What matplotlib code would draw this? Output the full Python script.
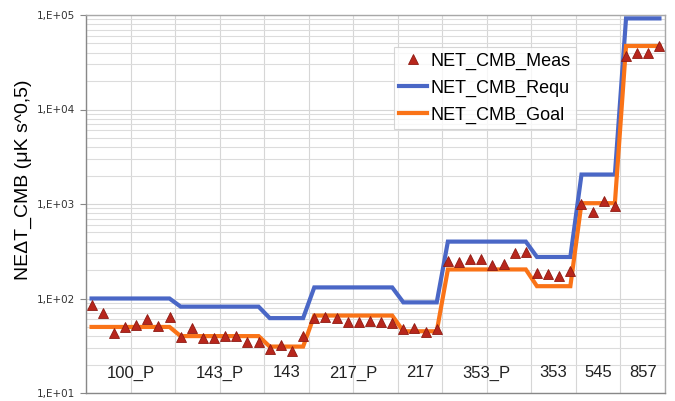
import numpy as np
import matplotlib
matplotlib.use("Agg")
import matplotlib.pyplot as plt
from matplotlib.ticker import LogLocator, FixedLocator, NullFormatter, FuncFormatter

# ---- data ----
groups = ["100_P", "143_P", "143", "217_P", "217", "353_P", "353", "545", "857"]
group_sizes = [8, 8, 4, 8, 4, 8, 4, 4, 4]
net_meas = [85, 71, 43, 50, 53, 60, 51, 64,
            39, 49, 38, 38, 40, 40, 35, 35,
            29, 32, 28, 40,
            62, 64, 62, 57, 57, 58, 57, 55,
            48, 49, 44, 47,
            250, 243, 260, 262, 224, 232, 300, 308,
            187, 181, 173, 194,
            1000, 832, 1070, 962,
            36500, 40000, 40000, 47000]
net_requ_group = [100, 82, 62, 131, 91, 400, 275, 2050, 92000]
net_goal_group = [50, 40, 31, 66, 45, 203, 135, 1020, 47000]
ytick_labels = ["1,E+01", "1,E+02", "1,E+03", "1,E+04", "1,E+05"]

net_requ = np.repeat(net_requ_group, group_sizes)
net_goal = np.repeat(net_goal_group, group_sizes)
n = len(net_meas)
x = np.arange(n) + 0.5

fig = plt.figure(figsize=(6.75, 4.01), dpi=100)
ax = fig.add_axes([86/675, 8/401, 579/675, 378/401])

blue = "#4A67C6"
orange = "#FA7317"
red = "#B8261C"

ax.plot(x, net_requ, color=blue, lw=3.0, label="NET_CMB_Requ", zorder=3, solid_joinstyle="miter")
ax.plot(x, net_goal, color=orange, lw=3.0, label="NET_CMB_Goal", zorder=3, solid_joinstyle="miter")
ax.plot(x, net_meas, linestyle="none", marker="^", ms=7.5, mfc=red, mec="#8E1A12",
        mew=0.6, label="NET_CMB_Meas", zorder=4)

ax.set_yscale("log")
ax.set_ylim(10, 1e5)
ax.set_xlim(0, n)

ax.yaxis.set_major_locator(FixedLocator([1e1, 1e2, 1e3, 1e4, 1e5]))
ax.yaxis.set_major_formatter(FuncFormatter(lambda v, p: ytick_labels[int(round(np.log10(v))) - 1]))
ax.yaxis.set_minor_locator(LogLocator(base=10, subs=np.arange(2, 10)))
ax.yaxis.set_minor_formatter(NullFormatter())
ax.set_xticks(np.arange(0, n + 1, 4))
ax.set_xticklabels([])
ax.tick_params(axis="x", length=0)
ax.tick_params(axis="y", which="major", length=4, width=0.8, color="#888888",
               labelsize=7.5, labelcolor="#333333", pad=4)
ax.tick_params(axis="y", which="minor", length=0)
for lab in ax.get_yticklabels():
    lab.set_family("DejaVu Sans")

ax.grid(True, which="major", axis="both", color="#d6d6d6", lw=0.8, zorder=0)
ax.grid(True, which="minor", axis="y", color="#dcdcdc", lw=0.8, zorder=0)
ax.set_axisbelow(True)
for s in ax.spines.values():
    s.set_color("#a8a8a8")
    s.set_linewidth(1.0)
ax.spines["left"].set_color("#888888")
ax.spines["bottom"].set_color("#888888")

# group labels inside the plot
start = 0
for g, size in zip(groups, group_sizes):
    cx = start + size / 2
    ax.text(cx, 16.3, g, ha="center", va="center", fontsize=12,
            family="Liberation Sans", color="#222222")
    start += size

fig.text(23/675, 1 - 180/401, "NE\u0394T_CMB (\u03bcK s^0,5)", rotation=90,
         ha="center", va="center", fontsize=14, family="Liberation Sans")

h, l = ax.get_legend_handles_labels()
order = [2, 0, 1]
leg = ax.legend([h[i] for i in order], [l[i] for i in order],
                loc="upper left", bbox_to_anchor=(0.532, 0.915),
                prop={"family": "Liberation Sans", "size": 13},
                frameon=True, fancybox=False, numpoints=1,
                handlelength=1.5, handletextpad=0.2, borderpad=0.3,
                labelspacing=0.55, borderaxespad=0)
leg.get_frame().set_edgecolor("#cccccc")
leg.get_frame().set_linewidth(0.8)

fig.savefig("out.png", dpi=100)
